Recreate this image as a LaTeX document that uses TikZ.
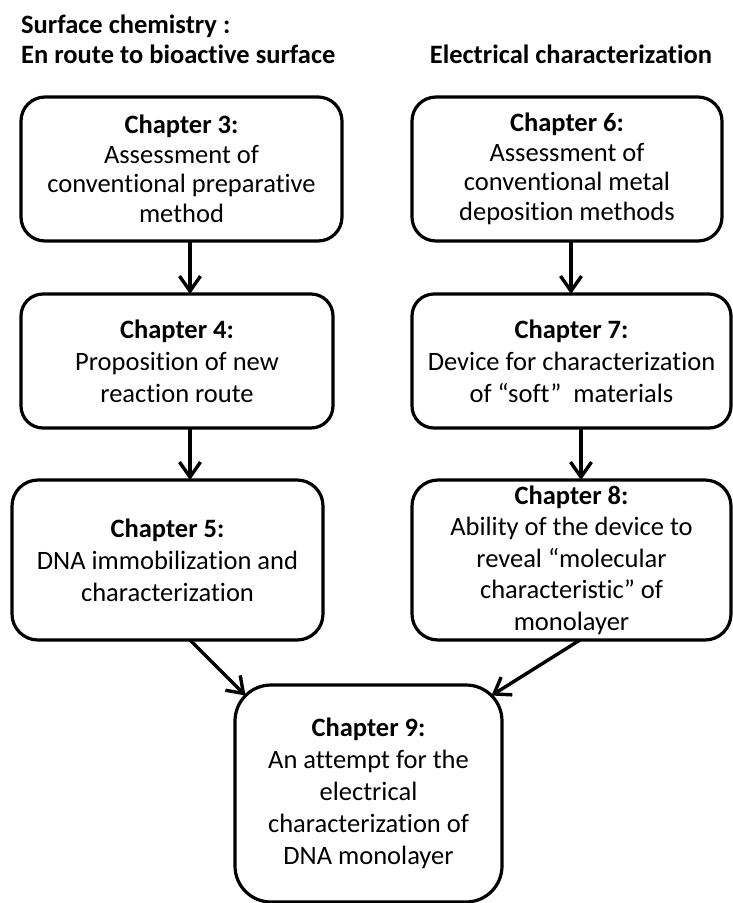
\documentclass[tikz,border=0pt]{standalone}
\usepackage{fontspec}
\setmainfont{Carlito}[Ligatures={NoCommon}]
\usetikzlibrary{arrows.meta,calc}
\begin{document}
\begin{tikzpicture}[x=1pt,y=-1pt,
  box/.style={draw, line width=3.2pt, inner sep=0pt, outer sep=0pt, align=center,
              font=\fontsize{26.5}{32}\selectfont},
  arr/.style={line width=3.4pt, -{Straight Barb[length=15pt,width=21pt]}},
  title/.style={font=\fontsize{26.5}{32}\selectfont\bfseries, inner sep=0pt}]
\fill[white] (0,0) rectangle (733,903);
\useasboundingbox (0,0) rectangle (733,903);
% titles
\node[title, anchor=base west] (t1) at (21,33) {Surface chemistry :};
\node[title, anchor=base west] (t2) at (21,63) {En route to bioactive surface};
\node[title, anchor=base] (t3) at (571,63) {Electrical characterization};
% boxes
\node[box, rounded corners=24pt, minimum width=321pt, minimum height=144pt,
      font=\fontsize{26.5}{29.5}\selectfont] (b3) at (181.5,169)
  {\textbf{Chapter 3:}\\Assessment of\\conventional preparative\\method};
\node[box, rounded corners=24pt, minimum width=310pt, minimum height=144pt,
      font=\fontsize{26.5}{29.5}\selectfont] (b6) at (567,169)
  {\textbf{Chapter 6:}\\Assessment of\\conventional metal\\deposition methods};
\node[box, rounded corners=22pt, minimum width=312pt, minimum height=134pt] (b4) at (177,361)
  {\textbf{Chapter 4:}\\Proposition of new\\reaction route};
\node[box, rounded corners=22pt, minimum width=319pt, minimum height=134pt] (b7) at (571.5,361)
  {\textbf{Chapter 7:}\\Device for characterization\\of “soft”~ materials};
\node[box, rounded corners=26pt, minimum width=311pt, minimum height=160pt] (b5) at (167.5,560)
  {\textbf{Chapter 5:}\\DNA immobilization and\\characterization};
\node[box, rounded corners=26pt, minimum width=319pt, minimum height=160pt,
      font=\fontsize{26.5}{31.5}\selectfont] (b8) at (571.5,560)
  {\textbf{Chapter 8:}\\Ability of the device to\\reveal “molecular\\characteristic” of\\monolayer};
\node[box, rounded corners=36pt, minimum width=267pt, minimum height=217pt] (b9) at (368.5,793.5)
  {\textbf{Chapter 9:}\\An attempt for the\\electrical\\characterization of\\DNA monolayer};
% connector x positions
\coordinate (xL) at (190,0);
\coordinate (xR) at (571,0);
\coordinate (xR2) at (581,0);
\coordinate (xR3) at (580,0);
\coordinate (tipL) at ($(b9.north west)+(10.5,10.5)$);
\coordinate (tipR) at ($(b9.north east)+(-10.5,10.5)$);
% arrows
\draw[arr] (xL |- b3.south) -- (xL |- b4.north);
\draw[arr] (xL |- b4.south) -- (xL |- b5.north);
\draw[arr] (xR |- b6.south) -- (xR |- b7.north);
\draw[arr] (xR2 |- b7.south) -- (xR2 |- b8.north);
\draw[arr] (xL |- b5.south) -- (tipL);
\draw[arr] (xR3 |- b8.south) -- (tipR);
\end{tikzpicture}
\end{document}
